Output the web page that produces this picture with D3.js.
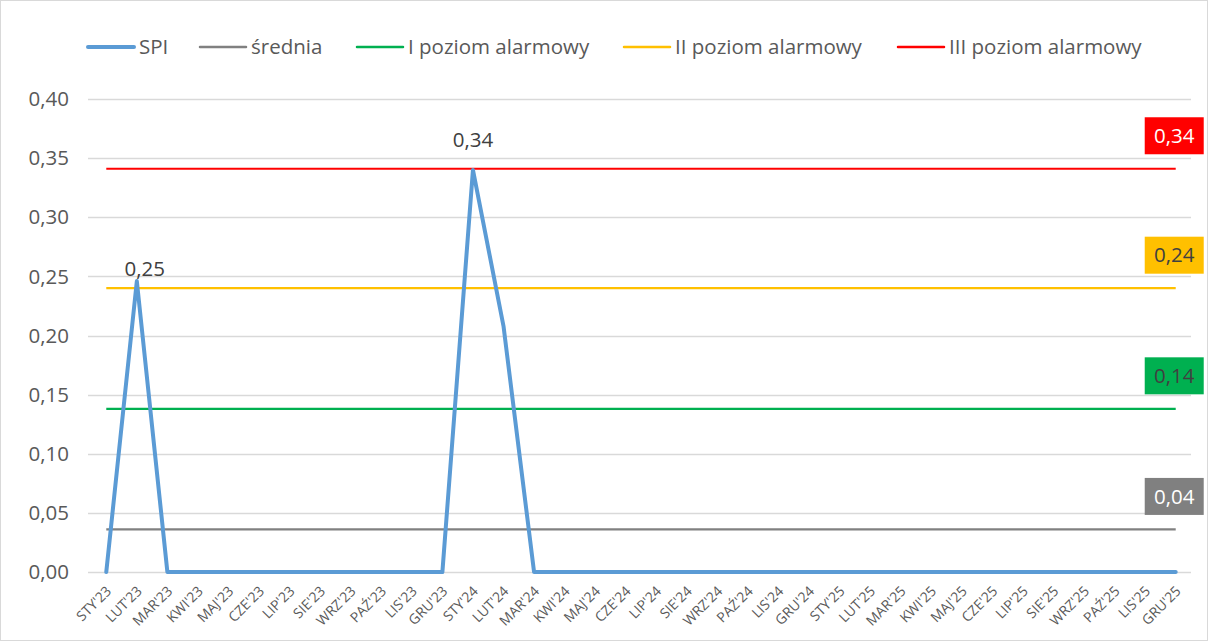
<!DOCTYPE html>
<html>
<head>
<meta charset="utf-8">
<script src="https://cdn.jsdelivr.net/npm/d3@7"></script>
<style>
  body { margin: 0; background: #fff; }
  text { font-family: "Open Sans", Lato, sans-serif; }
</style>
</head>
<body>
<div id="chart"></div>
<script>
const months = ["STY'23","LUT'23","MAR'23","KWI'23","MAJ'23","CZE'23","LIP'23","SIE'23","WRZ'23","PAŹ'23","LIS'23","GRU'23",
  "STY'24","LUT'24","MAR'24","KWI'24","MAJ'24","CZE'24","LIP'24","SIE'24","WRZ'24","PAŹ'24","LIS'24","GRU'24",
  "STY'25","LUT'25","MAR'25","KWI'25","MAJ'25","CZE'25","LIP'25","SIE'25","WRZ'25","PAŹ'25","LIS'25","GRU'25"];
const spi = [0, 0.246, 0, 0, 0, 0, 0, 0, 0, 0, 0, 0,
  0.34, 0.208, 0, 0, 0, 0, 0, 0, 0, 0, 0, 0,
  0, 0, 0, 0, 0, 0, 0, 0, 0, 0, 0, 0];
const spiLabels = {1: "0,25", 12: "0,34"};
const levelNames = ["średnia", "I poziom alarmowy", "II poziom alarmowy", "III poziom alarmowy"];
const levelValues = [0.036, 0.138, 0.24, 0.341];
const levelLabels = ["0,04", "0,14", "0,24", "0,34"];
const levelColors = ["#808080", "#00b050", "#ffc000", "#ff0000"];
const levelTextColors = ["#ffffff", "#404040", "#404040", "#ffffff"];
const yTicks = [0, 0.05, 0.10, 0.15, 0.20, 0.25, 0.30, 0.35, 0.40];

const W = 1208, H = 641;
const margin = {top: 99, right: 17, bottom: 69, left: 91};

const svg = d3.select("#chart").append("svg")
  .attr("width", W).attr("height", H);

svg.append("rect").attr("x", 0.5).attr("y", 0.5)
  .attr("width", W - 1).attr("height", H - 1)
  .attr("fill", "#fff").attr("stroke", "#d9d9d9");

const x = d3.scalePoint().domain(months)
  .range([margin.left, W - margin.right]).padding(0.5);
const y = d3.scaleLinear().domain([0, 0.4]).range([H - margin.bottom, margin.top]);

const fmt = v => d3.format(".2f")(v).replace(".", ",");

// gridlines + y labels
svg.append("g").selectAll("line").data(yTicks).join("line")
  .attr("x1", margin.left - 3).attr("x2", W - margin.right)
  .attr("y1", d => Math.round(y(d)) + 0.5).attr("y2", d => Math.round(y(d)) + 0.5)
  .attr("stroke", "#d9d9d9").attr("stroke-width", 1.3);

svg.append("g").selectAll("text").data(yTicks).join("text")
  .attr("x", 69).attr("y", d => y(d)).attr("dy", "0.35em")
  .attr("text-anchor", "end").attr("fill", "#595959")
  .style("font-size", "20.5px").text(fmt);

// x labels
svg.append("g").selectAll("text").data(months).join("text")
  .attr("transform", d => `translate(${x(d) + 6},${H - margin.bottom + 20}) rotate(-45)`)
  .attr("text-anchor", "end").attr("fill", "#595959")
  .style("font-size", "14px").text(d => d);

// level lines
const line = d3.line().x((d, i) => x(months[i])).y(d => y(d));
levelValues.forEach((v, k) => {
  svg.append("path").datum(months.map(() => v))
    .attr("d", line).attr("fill", "none")
    .attr("stroke", levelColors[k]).attr("stroke-width", 2.2);
  const lx = x(months[months.length - 1]), ly = y(v) - 33;
  svg.append("rect").attr("x", lx - 31).attr("y", ly - 18.5)
    .attr("width", 59).attr("height", 37).attr("fill", levelColors[k]);
  svg.append("text").attr("x", lx - 1.5).attr("y", ly).attr("dy", "0.35em")
    .attr("text-anchor", "middle").attr("fill", levelTextColors[k])
    .style("font-size", "20.5px").text(levelLabels[k]);
});

// SPI line
svg.append("path").datum(spi).attr("d", line).attr("fill", "none")
  .attr("stroke", "#5b9bd5").attr("stroke-width", 4)
  .attr("stroke-linejoin", "round").attr("stroke-linecap", "round");

// data labels (Excel nudged the first one)
const labelShift = {1: [8, -5], 12: [0, -23]};
Object.entries(spiLabels).forEach(([i, t]) => {
  svg.append("text")
    .attr("x", x(months[+i]) + labelShift[i][0])
    .attr("y", y(spi[+i]) + labelShift[i][1])
    .attr("text-anchor", "middle").attr("fill", "#404040")
    .style("font-size", "20.5px").text(t);
});

// legend
const legend = [
  {name: "SPI", color: "#5b9bd5", w: 4, x: 88},
  {name: levelNames[0], color: levelColors[0], w: 2.5, x: 200},
  {name: levelNames[1], color: levelColors[1], w: 2.5, x: 357},
  {name: levelNames[2], color: levelColors[2], w: 2.5, x: 624},
  {name: levelNames[3], color: levelColors[3], w: 2.5, x: 898}
];
const lg = svg.append("g").selectAll("g").data(legend).join("g")
  .attr("transform", d => `translate(${d.x},47)`);
lg.append("line").attr("x1", 0).attr("x2", 46)
  .attr("stroke", d => d.color).attr("stroke-width", d => d.w)
  .attr("stroke-linecap", "round");
lg.append("text").attr("x", 51).attr("dy", "0.35em")
  .attr("fill", "#595959").style("font-size", "20.5px").text(d => d.name);
</script>
</body>
</html>
